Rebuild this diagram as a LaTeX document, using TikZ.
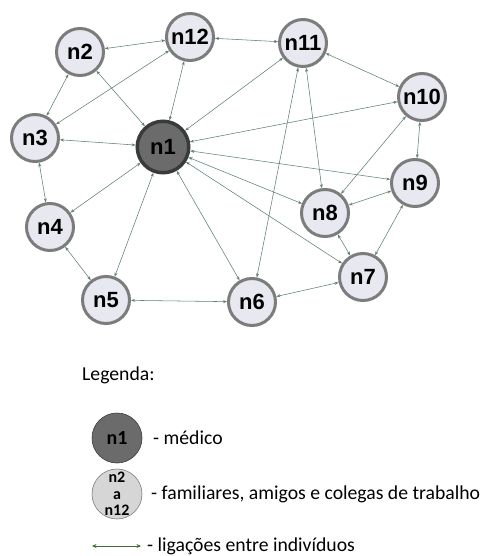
\documentclass[tikz,border=0pt]{standalone}
\usepackage{fontspec}
\setmainfont{Liberation Sans}
\newfontfamily\legfont{Carlito}
\usetikzlibrary{arrows.meta}
\definecolor{nodefill}{HTML}{E8E8F0}
\definecolor{nodeline}{HTML}{7C7C7C}
\definecolor{docfill}{HTML}{6B6B6B}
\definecolor{docline}{HTML}{3A3A3A}
\definecolor{edgecol}{HTML}{5F8070}
\definecolor{legarrow}{HTML}{3F6B35}
\definecolor{legfill}{HTML}{D6D6D6}
\tikzset{
  person/.style={circle, draw=nodeline, line width=3pt, fill=nodefill, minimum size=47pt, inner sep=0pt, font=\bfseries\fontsize{22}{22}\selectfont},
  doctor/.style={circle, draw=docline, line width=3.5pt, fill=docfill, minimum size=51.5pt, inner sep=0pt, font=\bfseries\fontsize{22}{22}\selectfont},
  link/.style={draw=edgecol, line width=0.55pt, {Stealth[length=4pt,width=3pt]}-{Stealth[length=4pt,width=3pt]}},
  legtext/.style={anchor=west, inner sep=0pt, font=\legfont\fontsize{19.7}{22}\selectfont},
  legcircle/.style={circle, line width=0.6pt, minimum size=50pt, inner sep=0pt},
}
\begin{document}
\begin{tikzpicture}[x=1pt,y=-1pt]
\useasboundingbox (0,0) rectangle (486,556);
\node[doctor] (n1) at (163,147) {n1};
\node[person] (n2) at (80,52) {n2};
\node[person] (n12) at (190,37) {n12};
\node[person] (n11) at (303,43) {n11};
\node[person] (n10) at (422,97) {n10};
\node[person] (n3) at (35,138) {n3};
\node[person] (n9) at (415,183) {n9};
\node[person] (n8) at (325,213) {n8};
\node[person] (n4) at (50,227) {n4};
\node[person] (n7) at (363,277) {n7};
\node[person] (n5) at (106,300) {n5};
\node[person] (n6) at (252,302) {n6};
\foreach \a/\b in {n2/n12, n2/n3, n2/n1, n12/n3, n12/n1, n12/n11, n11/n10, n11/n1, n11/n8, n11/n6, n10/n1, n10/n9, n10/n8, n1/n3, n1/n9, n1/n8, n1/n7, n1/n6, n1/n5, n1/n4, n3/n4, n4/n5, n5/n6, n6/n7, n8/n9, n8/n7, n9/n7}
  \draw[link] (\a) -- (\b);
% legend
\node[legtext] (leg) at (82,375) {Legenda:};
\node[legcircle, draw=docline, fill=docfill, font=\legfont\bfseries\fontsize{20}{20}\selectfont] (l1) at (117,438) {n1};
\node[legtext] (t1) at (153,438) {- médico};
\node[legcircle, draw=nodeline, fill=legfill, align=center, font=\legfont\bfseries\fontsize{16}{16.5}\selectfont] (l2) at (117,494) {n2\\a\\n12};
\node[legtext] (t2) at (151,494) {- familiares, amigos e colegas de trabalho};
\coordinate (a1) at (92,546);
\coordinate (a2) at (141,546);
\draw[draw=legarrow, line width=0.9pt, {Stealth[length=4.5pt,width=4pt]}-{Stealth[length=4.5pt,width=4pt]}] (a1) -- (a2);
\node[legtext] (t3) at (147,546) {- ligações entre indivíduos};
\end{tikzpicture}
\end{document}
